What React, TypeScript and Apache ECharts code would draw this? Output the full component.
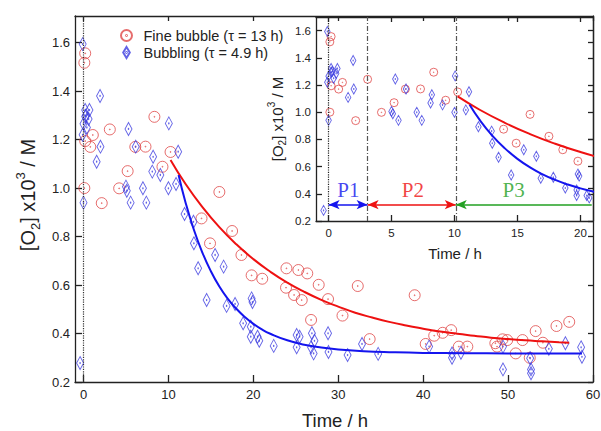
import React, { useEffect, useRef } from "react";
import * as echarts from "echarts";

// ---- data (time / h, [O2] x10^3 / M) ----
const fineBubble: [number, number][] = [
  [0.1, 1.517], [0.2, 1.556], [1.1, 1.219], [0.2, 1.194], [0.8, 1.17], [3.1, 1.242],
  [0.1, 1.0], [2.15, 0.938], [5.2, 1.07], [4.2, 0.999], [6.1, 1.17], [7.3, 1.171],
  [8.35, 1.294], [9.3, 1.088], [10.25, 1.149], [13.9, 0.875], [16.0, 0.984], [14.9, 0.772],
  [17.5, 0.823], [18.6, 0.724], [19.8, 0.64], [21.05, 0.626], [23.9, 0.669], [25.3, 0.662],
  [26.35, 0.648], [23.85, 0.589], [24.8, 0.559], [25.7, 0.538], [27.7, 0.601], [28.8, 0.542],
  [26.8, 0.456], [30.5, 0.474], [32.3, 0.596], [33.7, 0.377], [39.0, 0.558], [40.3, 0.357],
  [41.3, 0.391], [42.3, 0.403], [43.3, 0.414], [44.2, 0.346], [45.2, 0.346], [48.5, 0.36],
  [48.7, 0.346], [49.35, 0.376], [49.9, 0.373], [50.9, 0.318], [51.7, 0.373], [52.55, 0.3],
  [53.25, 0.41], [54.1, 0.362], [55.7, 0.431], [57.2, 0.448],
];

const bubbling: [number, number][] = [
  [-0.1, 1.594], [0.2, 1.322], [0.7, 1.322], [0.3, 1.3], [0.2, 1.295], [0.6, 1.285],
  [0.0, 1.265], [0.4, 1.25], [-0.1, 1.22], [0.0, 0.94], [-0.4, 0.278], [1.95, 1.38],
  [2.0, 1.171], [1.55, 1.109], [5.3, 1.244], [5.0, 1.006], [5.1, 0.989], [5.55, 0.94],
  [6.15, 1.171], [7.0, 0.999], [7.4, 0.94], [8.2, 1.129], [8.1, 1.068], [9.05, 1.054],
  [10.0, 0.999], [10.05, 1.267], [10.9, 1.017], [11.15, 1.15], [11.9, 0.893], [12.95, 0.861],
  [13.0, 0.772], [13.5, 0.669], [14.5, 0.538], [15.5, 0.724], [16.5, 0.676], [16.85, 0.514],
  [17.85, 0.522], [18.8, 0.442], [19.8, 0.545], [19.9, 0.53], [19.7, 0.428], [19.7, 0.387],
  [20.5, 0.387], [20.7, 0.37], [22.4, 0.349], [25.1, 0.394], [25.45, 0.387], [25.1, 0.343],
  [26.9, 0.401], [27.2, 0.37], [26.8, 0.343], [27.1, 0.318], [28.8, 0.401], [28.85, 0.324],
  [31.1, 0.311], [32.8, 0.357], [34.7, 0.316], [40.7, 0.346], [43.4, 0.318], [43.4, 0.3],
  [44.45, 0.321], [49.4, 0.346], [49.4, 0.252], [52.6, 0.298], [52.7, 0.252], [52.7, 0.236],
  [54.8, 0.337], [56.75, 0.36], [58.6, 0.343], [58.7, 0.304],
];

// fitted curves
const fineFit: [number, number][] = [
  [10.25, 1.116], [12, 1.018], [14, 0.922], [16, 0.839], [18, 0.768], [20, 0.707],
  [22, 0.655], [24, 0.61], [26, 0.572], [28, 0.539], [30, 0.511], [32, 0.486],
  [34, 0.466], [36, 0.448], [38, 0.433], [40, 0.42], [42, 0.408], [44, 0.399],
  [46, 0.391], [48, 0.383], [50, 0.377], [52, 0.372], [54, 0.368], [56, 0.364], [57.2, 0.362],
];
const bubblingFit: [number, number][] = [
  [11.2, 1.054], [12, 0.943], [13, 0.828], [14, 0.734], [15, 0.657], [16, 0.594],
  [17, 0.543], [18, 0.502], [19, 0.468], [20, 0.44], [21, 0.417], [22, 0.399],
  [24, 0.372], [26, 0.354], [28, 0.342], [30, 0.334], [33, 0.327], [36, 0.323],
  [40, 0.32], [45, 0.319], [50, 0.318], [58.7, 0.318],
];

const mainXTicks = [0, 10, 20, 30, 40, 50, 60];
const yTicks = [0.2, 0.4, 0.6, 0.8, 1.0, 1.2, 1.4, 1.6];
const insetXTicks = [0, 5, 10, 15, 20];

const phaseLabels = ["P1", "P2", "P3"];
const phaseLabelX = [1.57, 6.7, 14.7];
const phaseLabelY = 0.425;
const phaseBounds = [0, 3.1, 10.1, 20.9];
const phaseArrowY = 0.32;

const seriesNames = ["Fine bubble (\u03c4 = 13 h)", "Bubbling (\u03c4 = 4.9 h)"];

// ---- styles ----
const SANS = "'Liberation Sans', Arial, sans-serif";
const SERIF = "'Liberation Serif', 'Times New Roman', serif";
const AX = "#222";
const RED_M = "#e04848";
const BLUE_M = "#3c3ce0";
const RED_L = "#ee1111";
const BLUE_L = "#1414ee";
const GREEN = "#22a022";

const circleSym =
  "path://M10,0A10,10 0 1 1 -10,0A10,10 0 1 1 10,0Z M0.8,0A0.8,0.8 0 1 1 -0.8,0A0.8,0.8 0 1 1 0.8,0Z";
const diamondSym =
  "path://M0,-10L6,0L0,10L-6,0Z M0.7,0A0.7,0.7 0 1 1 -0.7,0A0.7,0.7 0 1 1 0.7,0Z";

function xAx(grid: number, pos: string, min: number, max: number, ticks: number[], showLabel: boolean, fontSize: number, tickLen: number) {
  return {
    type: "value", gridIndex: grid, position: pos, min, max,
    axisLine: { show: true, onZero: false, lineStyle: { color: AX, width: 1.3 } },
    axisTick: { show: true, inside: true, length: tickLen, customValues: ticks, lineStyle: { color: AX, width: 1.3 } },
    axisLabel: { show: showLabel, customValues: ticks, fontSize, color: AX, fontFamily: SANS, margin: 6, formatter: (v: number) => String(v) },
    splitLine: { show: false },
  };
}
function yAx(grid: number, pos: string, min: number, max: number, ticks: number[], showLabel: boolean, fontSize: number, tickLen: number) {
  return {
    type: "value", gridIndex: grid, position: pos, min, max,
    axisLine: { show: true, onZero: false, lineStyle: { color: AX, width: 1.3 } },
    axisTick: { show: true, inside: true, length: tickLen, customValues: ticks, lineStyle: { color: AX, width: 1.3 } },
    axisLabel: { show: showLabel, customValues: ticks, fontSize, color: AX, fontFamily: SANS, margin: 5, formatter: (v: number) => v.toFixed(1) },
    splitLine: { show: false },
  };
}

function scatter(name: string, xi: number, data: [number, number][], sym: string, size: any, color: string, extra: any = {}) {
  return {
    type: "scatter", name, xAxisIndex: xi, yAxisIndex: xi, data, symbol: sym, symbolSize: size,
    itemStyle: { color: "transparent", borderColor: color, borderWidth: 1 },
    clip: true, silent: true, z: 3, ...extra,
  };
}
function fitLine(name: string, xi: number, data: [number, number][], color: string) {
  return {
    type: "line", name, xAxisIndex: xi, yAxisIndex: xi, data, smooth: true, showSymbol: false,
    symbol: "none", lineStyle: { color, width: 2 }, clip: true, silent: true, z: 4,
  };
}

function arrowPair(a: number, b: number, color: string, startSym: string, endSym: string) {
  return [
    { coord: [a, phaseArrowY], symbol: startSym, lineStyle: { color, type: "solid", width: 1.6 } },
    { coord: [b, phaseArrowY], symbol: endSym },
  ];
}

export default function App() {
  const ref = useRef<HTMLDivElement>(null);
  useEffect(() => {
    if (!ref.current) return;
    const chart = echarts.init(ref.current, null, { renderer: "svg" });
    const phaseColors = [BLUE_L, RED_L, GREEN];
    const option: any = {
      animation: false,
      backgroundColor: "#fff",
      grid: [
        { left: 75, right: 8, top: 16, bottom: 49, containLabel: false, outerBoundsMode: "none" },
        { left: 316, right: 8, top: 17, bottom: 210, containLabel: false, outerBoundsMode: "none", show: true, backgroundColor: "#fff", borderWidth: 0 },
      ],
      xAxis: [
        xAx(0, "bottom", -1, 60, mainXTicks, true, 13, 7),
        xAx(0, "top", -1, 60, mainXTicks, false, 13, 5),
        xAx(1, "bottom", -1, 21, insetXTicks, true, 11.5, 6),
        xAx(1, "top", -1, 21, insetXTicks, false, 11.5, 5),
      ],
      yAxis: [
        yAx(0, "left", 0.2, 1.71, yTicks, true, 13, 7),
        yAx(0, "right", 0.2, 1.71, yTicks, false, 13, 5),
        yAx(1, "left", 0.2, 1.7, yTicks, true, 11.5, 6),
        yAx(1, "right", 0.2, 1.7, yTicks, false, 11.5, 5),
      ],
      legend: {
        data: seriesNames, orient: "vertical", left: 115, top: 23, itemWidth: 24, itemHeight: 11,
        itemGap: 2, selectedMode: false,
        textStyle: { fontSize: 14.5, color: AX, fontFamily: SANS, lineHeight: 15 },
      },
      series: [
        scatter(seriesNames[0], 0, fineBubble, circleSym, 11, RED_M, {
          markLine: {
            silent: true, symbol: ["none", "none"], label: { show: false },
            lineStyle: { type: "dotted", color: "#333", width: 1.2 },
            data: [{ xAxis: 0 }],
          },
        }),
        scatter(seriesNames[1], 0, bubbling, diamondSym, [7, 13], BLUE_M),
        fitLine("fineFitMain", 0, fineFit, RED_L),
        fitLine("bubFitMain", 0, bubblingFit, BLUE_L),
        scatter("fineInset", 2, fineBubble, circleSym, 8, RED_M, {
          markLine: {
            silent: true, symbol: ["none", "none"], symbolSize: [7, 11], label: { show: false },
            data: [
              { xAxis: phaseBounds[0], lineStyle: { type: "dotted", color: "#222", width: 1.2 } },
              { xAxis: phaseBounds[1], lineStyle: { type: [5, 2, 1, 2], color: "#555", width: 1.2 } },
              { xAxis: phaseBounds[2], lineStyle: { type: [5, 2, 1, 2], color: "#555", width: 1.2 } },
              arrowPair(phaseBounds[0], phaseBounds[1], BLUE_L, "arrow", "arrow"),
              arrowPair(phaseBounds[1], phaseBounds[2], RED_L, "arrow", "arrow"),
              arrowPair(phaseBounds[2], phaseBounds[3], GREEN, "arrow", "none"),
            ],
          },
        }),
        scatter("bubInset", 2, bubbling, diamondSym, [5.5, 10], BLUE_M),
        fitLine("fineFitInset", 2, fineFit, RED_L),
        fitLine("bubFitInset", 2, bubblingFit, BLUE_L),
        {
          type: "scatter", name: "phases", xAxisIndex: 2, yAxisIndex: 2, symbolSize: 1, silent: true,
          itemStyle: { color: "transparent" }, z: 5,
          label: { show: true, position: "inside", formatter: (p: any) => p.name, fontSize: 21, fontFamily: SERIF, fontWeight: "normal" },
          data: phaseLabels.map((l, i) => ({ name: l, value: [phaseLabelX[i], phaseLabelY], label: { color: phaseColors[i] } })),
        },
      ],
      graphic: [
        {
          type: "text", x: 335, y: 420,
          style: { text: "Time / h", fontSize: 18.5, fontWeight: "normal", fontFamily: SANS, fill: AX, align: "center", verticalAlign: "middle" },
        },
        {
          type: "text", x: 455, y: 253,
          style: { text: "Time / h", fontSize: 15, fontWeight: "normal", fontFamily: SANS, fill: AX, align: "center", verticalAlign: "middle" },
        },
        {
          type: "text", x: 28, y: 195, rotation: Math.PI / 2,
          style: {
            text: "[O{sub|2}] x10{sup|3} / M", fontSize: 20, fontWeight: "normal", lineHeight: 28, fontFamily: SANS, fill: AX,
            align: "center", verticalAlign: "middle",
            rich: {
              sub: { fontSize: 13, lineHeight: 14, verticalAlign: "bottom", fontFamily: SANS, fill: AX },
              sup: { fontSize: 13, lineHeight: 14, verticalAlign: "top", fontFamily: SANS, fill: AX },
            },
          },
        },
        {
          type: "text", x: 277, y: 119, rotation: Math.PI / 2,
          style: {
            text: "[O{sub|2}] x10{sup|3} / M", fontSize: 15, fontWeight: "normal", lineHeight: 21, fontFamily: SANS, fill: AX,
            align: "center", verticalAlign: "middle",
            rich: {
              sub: { fontSize: 10, lineHeight: 10, verticalAlign: "bottom", fontFamily: SANS, fill: AX },
              sup: { fontSize: 10, lineHeight: 10, verticalAlign: "top", fontFamily: SANS, fill: AX },
            },
          },
        },
      ],
    };
    chart.setOption(option);
    return () => chart.dispose();
  }, []);
  return <div ref={ref} style={{ position: "fixed", left: 0, top: 0, width: 601, height: 431 }} />;
}
